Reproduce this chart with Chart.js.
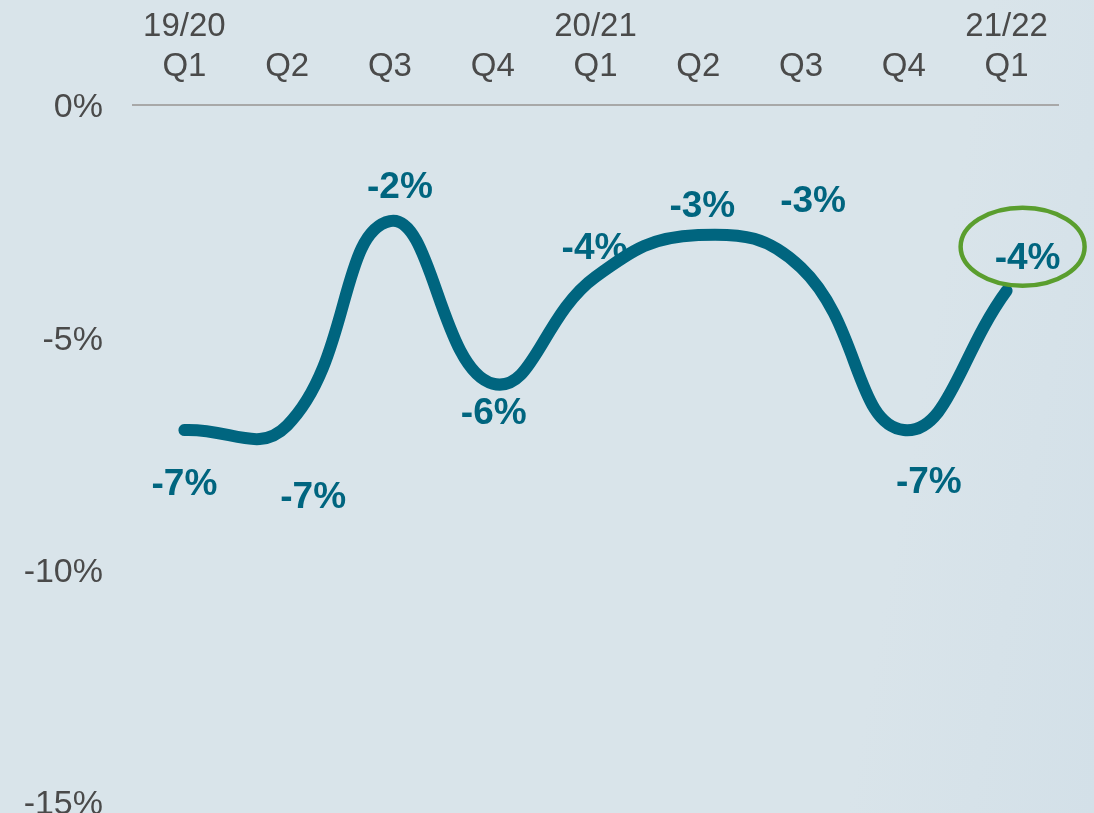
<!DOCTYPE html>
<html>
<head>
<meta charset="utf-8">
<script src="https://cdn.jsdelivr.net/npm/chart.js@4/dist/chart.umd.min.js"></script>
<style>
  html, body { margin: 0; padding: 0; overflow: hidden; }
  body { width: 1094px; height: 813px; background: linear-gradient(100deg, #d9e4ea 0%, #d9e4ea 80%, #d3e0e8 100%); }
  #wrap { width: 1094px; height: 852px; position: relative; }
</style>
</head>
<body>
<div id="wrap"><canvas id="grafico"></canvas></div>
<script>
// Trimestres (eje X arriba)
const trimestres = [['19/20', 'Q1'], 'Q2', 'Q3', 'Q4', ['20/21', 'Q1'], 'Q2', 'Q3', 'Q4', ['21/22', 'Q1']];
// Variación en %
const variacion = [-7.0, -6.9, -2.5, -6.0, -3.7, -2.8, -3.5, -7.0, -4.0];
// Marcas del eje Y
const ticksY = [0, -5, -10, -15];

const azul = '#00657f';
const fuente = "Arial, 'Liberation Sans', sans-serif";

// desplazamiento de cada etiqueta respecto a su punto
const offsets = [[0, 55], [26, 72], [10, -33], [1, 30], [-1, -28], [4, -28], [12, -66], [25, 53], [21, -32]];

const etiquetas = {
    id: 'etiquetas',
    afterDatasetsDraw(chart) {
        const ctx = chart.ctx;
        const meta = chart.getDatasetMeta(0);
        ctx.save();
        ctx.font = 'bold 37px ' + fuente;
        ctx.fillStyle = azul;
        ctx.textAlign = 'center';
        ctx.textBaseline = 'middle';
        meta.data.forEach((pt, i) => {
            const txt = Math.round(variacion[i]) + '%';
            ctx.fillText(txt, pt.x + offsets[i][0], pt.y + offsets[i][1]);
        });
        // óvalo verde en el último trimestre
        const last = meta.data[meta.data.length - 1];
        ctx.beginPath();
        ctx.ellipse(last.x + 16, last.y - 44, 62, 39, 0, 0, Math.PI * 2);
        ctx.strokeStyle = '#5a9e2e';
        ctx.lineWidth = 4.5;
        ctx.stroke();
        ctx.restore();
    }
};

new Chart(document.getElementById('grafico'), {
    type: 'line',
    data: {
        labels: trimestres,
        datasets: [{
            data: variacion,
            borderColor: azul,
            borderWidth: 12,
            borderCapStyle: 'round',
            borderJoinStyle: 'round',
            tension: 0.45,
            pointRadius: 0,
            fill: false
        }]
    },
    options: {
        responsive: true,
        maintainAspectRatio: false,
        animation: false,
        layout: { padding: { top: 0, right: 36, bottom: 0, left: 0 } },
        plugins: { legend: { display: false }, tooltip: { enabled: false } },
        scales: {
            x: {
                position: 'top',
                offset: true,
                grid: { display: false, drawTicks: false },
                border: { display: true, color: '#a8a8a8', width: 2 },
                ticks: {
                    color: '#4a4a4a',
                    font: { family: fuente, size: 33, lineHeight: 1.22 },
                    padding: 18,
                    maxRotation: 0,
                    autoSkip: false
                },
                afterFit(scale) { scale.height = 105; }
            },
            y: {
                min: -15,
                max: 0,
                afterBuildTicks(scale) { scale.ticks = ticksY.map(v => ({ value: v })); },
                grid: { display: false, drawTicks: false },
                border: { display: false },
                ticks: {
                    color: '#4a4a4a',
                    font: { family: fuente, size: 34 },
                    padding: 30,
                    labelOffset: 3,
                    callback: v => v + '%'
                },
                afterFit(scale) { scale.width = 133; }
            }
        }
    },
    plugins: [etiquetas]
});
</script>
</body>
</html>
